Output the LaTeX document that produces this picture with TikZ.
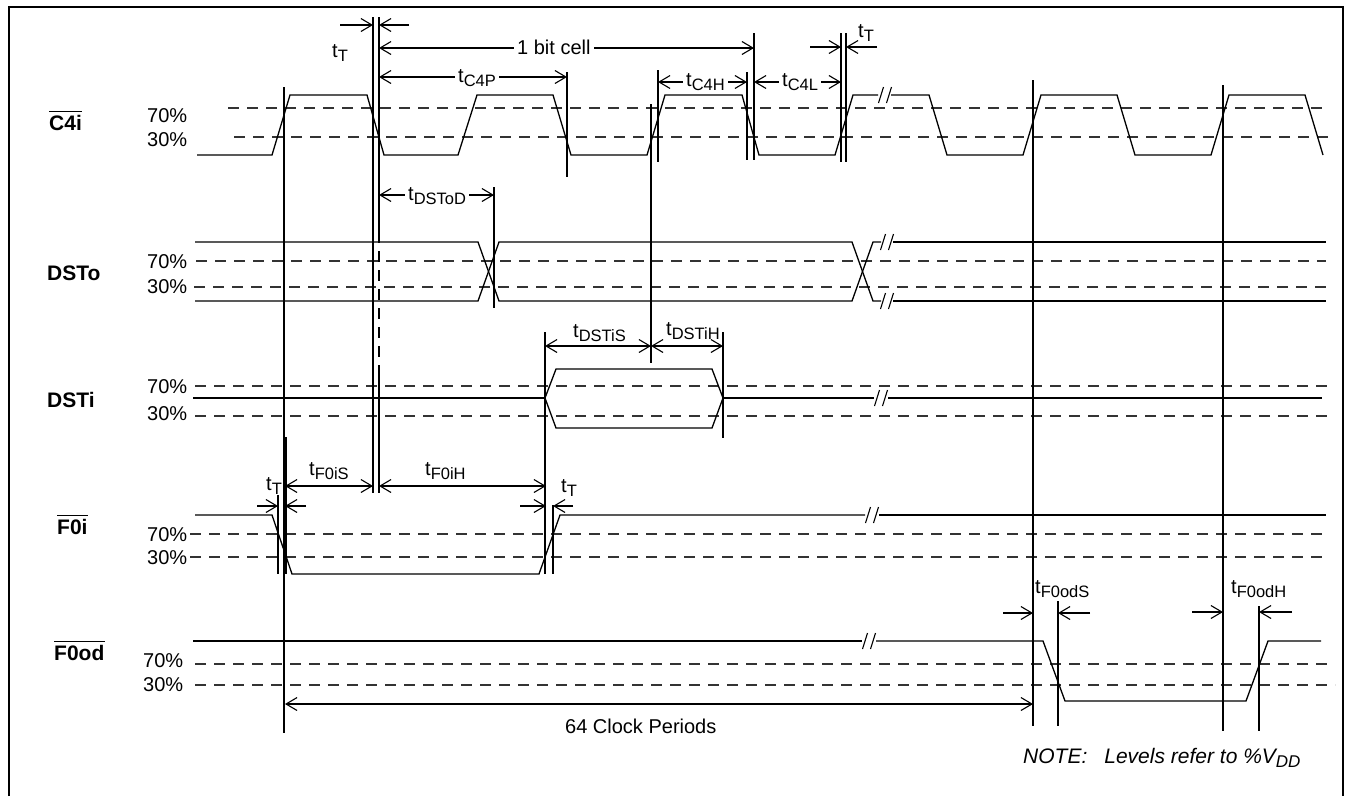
\documentclass[tikz,border=0pt]{standalone}
\usepackage{fontspec}
\setmainfont{Liberation Sans}
\usetikzlibrary{arrows.meta}
\newcommand\tsb[1]{t\raisebox{-4pt}{\fontsize{16.5}{16.5}\selectfont #1}}
\newcommand\brk[2]{\draw[brkl] (#1-6.5,#2+8) -- (#1-1.5,#2-8) (#1+1.5,#2+8) -- (#1+6.5,#2-8);}
\begin{document}
\begin{tikzpicture}[x=1pt,y=-1pt,
  sig/.style={line width=1.3pt},
  lvl/.style={line width=1.3pt, dash pattern=on 11pt off 8pt, black!80},
  vln/.style={line width=1.2pt},
  thk/.style={line width=2.5pt},
  dimb/.style={line width=1.1pt, {Straight Barb[length=11pt,width=13pt]}-{Straight Barb[length=11pt,width=13pt]}},
  rar/.style={line width=1.1pt, -{Straight Barb[length=11pt,width=13pt]}},
  lbl/.style={font=\fontsize{20}{22}\selectfont, inner sep=0pt, anchor=base west},
  ilbl/.style={lbl, fill=white, inner xsep=3pt, inner ysep=1pt},
  sname/.style={font=\fontsize{21}{23}\selectfont\bfseries, inner sep=0pt, anchor=base west},
  brkl/.style={line width=1.1pt}
]
\useasboundingbox (0,0) rectangle (1348,796);
\fill[white] (0,0) rectangle (1348,796);
% frame
\draw[line width=1.3pt] (9,796) -- (9,7) -- (1343,7) -- (1343,796);

% ---------- signal names ----------
\node[sname] (nC4i) at (49,130) {C4i};
\draw[line width=1.3pt] ([yshift=3pt]nC4i.north west) -- ([yshift=3pt]nC4i.north east);
\node[sname] (nDSTo) at (47,280) {DSTo};
\node[sname] (nDSTi) at (47,407) {DSTi};
\node[sname] (nF0i) at (57,534) {F0i};
\draw[line width=1.3pt] ([yshift=3pt]nF0i.north west) -- ([yshift=3pt]nF0i.north east);
\node[sname] (nF0od) at (54,660) {F0od};
\draw[line width=1.3pt] ([yshift=3pt]nF0od.north west) -- ([yshift=3pt]nF0od.north east);

% ---------- percent labels ----------
\node[lbl] (p1) at (147,122) {70\%};
\node[lbl] (p2) at (147,146) {30\%};
\node[lbl] (p3) at (147,268) {70\%};
\node[lbl] (p4) at (147,293) {30\%};
\node[lbl] (p5) at (147,393) {70\%};
\node[lbl] (p6) at (147,420) {30\%};
\node[lbl] (p7) at (147,541) {70\%};
\node[lbl] (p8) at (147,564) {30\%};
\node[lbl] (p9) at (143,667) {70\%};
\node[lbl] (p10) at (143,691) {30\%};

% ---------- level lines ----------
\draw[lvl] (228,108) -- (1329,108);
\draw[lvl] (234,137) -- (1335,137);
\draw[lvl] (196,261) -- (1326,261);
\draw[lvl] (194,287) -- (1326,287);
\draw[lvl] (195,386) -- (1328,386);
\draw[lvl] (195,416) -- (1328,416);
\draw[lvl] (190,534) -- (1326,534);
\draw[lvl] (190,557) -- (1326,557);
\draw[lvl] (195,664) -- (1328,664);
\draw[lvl] (195,685) -- (1335,685);

% ---------- C4i ----------
\draw[sig] (197,155) -- (272,155) -- (290,95) -- (367,95) -- (384,155) -- (458,155) -- (477,95) -- (553,95) -- (571,155) -- (647,155) -- (665,95) -- (742,95) -- (759,155) -- (835,155) -- (853,95) -- (878,95);
\brk{885}{95}
\draw[sig] (891,95) -- (929,95) -- (947,155) -- (1023,155) -- (1041,95) -- (1117,95) -- (1135,155) -- (1211,155) -- (1229,95) -- (1305,95) -- (1323,155);

% ---------- DSTo ----------
\draw[sig] (195,242) -- (478,242) -- (499,301) -- (852,301) -- (873,242) -- (881,242);
\draw[sig] (195,301) -- (478,301) -- (499,242) -- (852,242) -- (873,301) -- (881,301);
\brk{887}{242}
\brk{887}{301}
\draw[sig] (893,242) -- (1326,242);
\draw[sig] (893,301) -- (1326,301);

% ---------- DSTi ----------
\draw[sig] (193,398) -- (545,398);
\draw[sig] (545,398) -- (556,369) -- (712,369) -- (723,398) -- (712,428) -- (556,428) -- cycle;
\draw[sig] (723,398) -- (874,398);
\brk{881}{398}
\draw[sig] (888,398) -- (1322,398);

% ---------- F0i ----------
\draw[sig] (195,515) -- (272,515) -- (292,574) -- (539,574) -- (560,515) -- (865,515);
\brk{872}{515}
\draw[sig] (879,515) -- (1326,515);

% ---------- F0od ----------
\draw[sig] (193,641) -- (862,641);
\brk{869}{641}
\draw[sig] (876,641) -- (1043,641) -- (1065,701) -- (1246,701) -- (1268,641) -- (1321,641);

% ---------- vertical reference lines ----------
\draw[vln] (284,87) -- (284,733);
\draw[thk] (285.5,437) -- (285.5,574);
\draw[thk] (373,17) -- (373,493);
\draw[thk] (379,17) -- (379,232);
\draw[vln, dash pattern=on 11pt off 8pt] (379,232) -- (379,370);
\draw[thk] (379,370) -- (379,427);
\draw[vln] (379,427) -- (379,493);
\draw[vln] (494,187) -- (494,308);
\draw[vln] (567,72) -- (567,177);
\draw[vln] (651,104) -- (651,363);
\draw[vln] (658,70) -- (658,162);
\draw[vln] (747,72) -- (747,160);
\draw[vln] (754,33) -- (754,160);
\draw[vln] (841,33) -- (841,162);
\draw[vln] (846,33) -- (846,162);
\draw[vln] (545,332) -- (545,574);
\draw[vln] (553,505) -- (553,574);
\draw[vln] (278,495) -- (278,574);
\draw[vln] (723,332) -- (723,438);
\draw[vln] (1033,80) -- (1033,726);
\draw[vln] (1223,85) -- (1223,731);
\draw[vln] (1058,601) -- (1058,726);
\draw[vln] (1259,606) -- (1259,731);

% ---------- C4i annotations ----------
\draw[rar] (340,25) -- (373,25);
\draw[rar] (409,25) -- (379,25);
\node[lbl] (tT1) at (332,57) {\tsb{T}};

\draw[dimb] (379,48) -- (754,48);
\node[ilbl] (bitcell) at (514,54) {1 bit cell};

\draw[dimb] (379,77) -- (567,77);
\node[ilbl] (tC4P) at (455,82) {\tsb{C4P}};

\draw[dimb] (658,82) -- (747,82);
\node[ilbl] (tC4H) at (683,86) {\tsb{C4H}};

\draw[dimb] (754,82) -- (841,82);
\node[ilbl] (tC4L) at (779,86) {\tsb{C4L}};

\draw[rar] (810,47) -- (841,47);
\draw[rar] (877,47) -- (846,47);
\node[lbl] (tT2) at (858,37) {\tsb{T}};

% ---------- DSTo annotation ----------
\draw[dimb] (379,195) -- (494,195);
\node[ilbl] (tDSToD) at (405,200) {\tsb{DSToD}};

% ---------- DSTi annotations ----------
\draw[dimb] (545,346) -- (651,346);
\draw[dimb] (651,346) -- (723,346);
\node[lbl] (tDSTiS) at (573,337) {\tsb{DSTiS}};
\node[lbl] (tDSTiH) at (666,335) {\tsb{DSTiH}};

% ---------- F0i annotations ----------
\draw[rar] (257,506) -- (278,506);
\draw[rar] (306,506) -- (285,506);
\node[lbl] (tT3) at (266,490) {\tsb{T}};
\draw[dimb] (285,486) -- (373,486);
\node[lbl] (tF0iS) at (309,475) {\tsb{F0iS}};
\draw[dimb] (379,486) -- (546,486);
\node[lbl] (tF0iH) at (425,475) {\tsb{F0iH}};
\draw[rar] (520,506) -- (546,506);
\draw[rar] (573,506) -- (553,506);
\node[lbl] (tT4) at (561,492) {\tsb{T}};

% ---------- F0od annotations ----------
\draw[rar] (1003,613) -- (1033,613);
\draw[rar] (1090,613) -- (1058,613);
\node[lbl] (tF0odS) at (1035,593) {\tsb{F0odS}};
\draw[rar] (1192,612) -- (1223,612);
\draw[rar] (1292,612) -- (1259,612);
\node[lbl] (tF0odH) at (1231,593) {\tsb{F0odH}};

\draw[dimb] (285,704) -- (1033,704);
\node[lbl] (clk) at (565,733) {64 Clock Periods};

% ---------- note ----------
\node[lbl, font=\fontsize{21}{23}\selectfont\itshape] (note) at (1023,763) {NOTE:\hspace{17pt}Levels refer to \%V\raisebox{-4pt}{\fontsize{17}{17}\selectfont DD}};
\end{tikzpicture}
\end{document}
